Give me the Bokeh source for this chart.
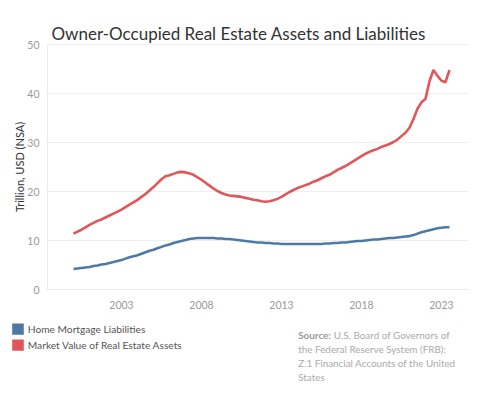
from bokeh.plotting import figure
from bokeh.models import Range1d, FixedTicker, ColumnDataSource
from bokeh.embed import file_html
from bokeh.resources import INLINE
from bokeh.core.properties import value

# ---------------- data (trillion USD, quarterly 2000Q1 .. 2023Q3) ----------------
quarters = [f"{2000 + i // 4}Q{i % 4 + 1}" for i in range(95)]

market_value = [
    11.4, 11.8, 12.2, 12.7, 13.2, 13.6, 14.0, 14.3,   # 2000-2001
    14.7, 15.1, 15.5, 15.9, 16.3, 16.8, 17.3, 17.8,   # 2002-2003
    18.3, 18.9, 19.5, 20.2, 20.9, 21.7, 22.5, 23.1,   # 2004-2005
    23.3, 23.6, 23.9, 24.0, 23.9, 23.7, 23.4, 22.9,   # 2006-2007
    22.4, 21.8, 21.2, 20.6, 20.1, 19.7, 19.4, 19.2,   # 2008-2009
    19.1, 19.0, 18.9, 18.7, 18.5, 18.3, 18.2, 18.0,   # 2010-2011
    17.9, 18.0, 18.2, 18.5, 18.9, 19.4, 19.9, 20.3,   # 2012-2013
    20.7, 21.0, 21.3, 21.6, 22.0, 22.3, 22.7, 23.1,   # 2014-2015
    23.4, 23.9, 24.4, 24.8, 25.2, 25.7, 26.2, 26.7,   # 2016-2017
    27.2, 27.7, 28.1, 28.4, 28.7, 29.1, 29.4, 29.7,   # 2018-2019
    30.1, 30.6, 31.3, 32.0, 33.0, 34.8, 36.9, 38.2,   # 2020-2021
    38.9, 42.5, 44.8, 43.6, 42.6, 42.3, 44.8,         # 2022-2023
]

mortgages = [
    4.2, 4.3, 4.4, 4.5, 4.6, 4.8, 4.9, 5.1,           # 2000-2001
    5.2, 5.4, 5.6, 5.8, 6.0, 6.3, 6.6, 6.8,           # 2002-2003
    7.0, 7.3, 7.6, 7.9, 8.1, 8.4, 8.7, 9.0,           # 2004-2005
    9.2, 9.5, 9.7, 9.9, 10.1, 10.3, 10.4, 10.5,       # 2006-2007
    10.5, 10.5, 10.5, 10.5, 10.4, 10.4, 10.3, 10.3,   # 2008-2009
    10.2, 10.1, 10.0, 9.9, 9.8, 9.7, 9.6, 9.6,        # 2010-2011
    9.5, 9.5, 9.4, 9.4, 9.3, 9.3, 9.3, 9.3,           # 2012-2013
    9.3, 9.3, 9.3, 9.3, 9.3, 9.3, 9.3, 9.4,           # 2014-2015
    9.4, 9.5, 9.5, 9.6, 9.6, 9.7, 9.8, 9.9,           # 2016-2017
    9.9, 10.0, 10.1, 10.2, 10.2, 10.3, 10.4, 10.5,    # 2018-2019
    10.5, 10.6, 10.7, 10.8, 10.9, 11.1, 11.4, 11.7,   # 2020-2021
    11.9, 12.1, 12.3, 12.5, 12.6, 12.7, 12.7,         # 2022-2023
]

x_tick_years = [2003, 2008, 2013, 2018, 2023]
x_tick_labels = ["2003", "2008", "2013", "2018", "2023"]
y_ticks = [0, 10, 20, 30, 40, 50]

series_names = ["Home Mortgage Liabilities", "Market Value of Real Estate Assets"]
series_colors = ["#4e79a7", "#e15759"]

title_text = "Owner-Occupied Real Estate Assets and Liabilities"
y_title = "Trillion, USD (NSA)"
source_head = "Source:"
source_lines = ["U.S. Board of Governors of",
                "the Federal Reserve System (FRB):",
                "Z.1 Financial Accounts of the United",
                "States"]

# ---------------- geometry: the frame fills the whole canvas ----------------
W, H = 477, 397
PL, PR, PT, PB = 47, 468, 44, 289          # page px of the plotting area
X0, X1 = 1998.375, 2024.69                 # years at PL / PR
Y0, Y1 = 0, 50                             # values at PB / PT


def xd(px):
    return X0 + (px - PL) / (PR - PL) * (X1 - X0)


def yd(py):
    return Y0 + (PB - py) / (PB - PT) * (Y1 - Y0)


def q_to_year(q):
    y, n = q.split("Q")
    return int(y) + (int(n) - 1) / 4.0


xs = [q_to_year(q) for q in quarters]
src = ColumnDataSource(dict(x=xs, mv=market_value, mort=mortgages))

FONT = "Lato"

p = figure(width=W, height=H, output_backend="svg", toolbar_location=None,
           x_range=Range1d(xd(0), xd(W)), y_range=Range1d(yd(H), yd(0)),
           min_border=0)
p.outline_line_color = None
p.background_fill_color = "white"
p.border_fill_color = "white"
p.xgrid.visible = False
p.ygrid.visible = False

# horizontal grid lines over the plotting area
p.segment(x0=[X0] * len(y_ticks), x1=[X1] * len(y_ticks), y0=y_ticks, y1=y_ticks,
          line_color="#efefef", line_width=1)

p.line("x", "mort", source=src, line_color=series_colors[0], line_width=2.6)
p.line("x", "mv", source=src, line_color=series_colors[1], line_width=2.6)

# axes pinned to the plotting area
p.xaxis.fixed_location = Y0
p.yaxis.fixed_location = X0
p.xaxis.bounds = (X0, X1)
p.yaxis.bounds = (Y0, Y1)
p.xaxis.ticker = FixedTicker(ticks=x_tick_years)
p.xaxis.major_label_overrides = {y: l for y, l in zip(x_tick_years, x_tick_labels)}
p.yaxis.ticker = FixedTicker(ticks=y_ticks)
for a in (p.xaxis[0], p.yaxis[0]):
    a.major_tick_line_color = None
    a.minor_tick_line_color = None
    a.axis_line_color = "#ebebeb"
    a.major_label_text_font = FONT
    a.major_label_text_font_size = "10.5px"
    a.major_label_text_color = "#9a9a9a"
p.xaxis.major_label_standoff = 5
p.yaxis.major_label_standoff = 2
p.yaxis.axis_label = y_title
p.yaxis.axis_label_text_font = FONT
p.yaxis.axis_label_text_font_size = "11px"
p.yaxis.axis_label_text_font_style = "normal"
p.yaxis.axis_label_text_color = "#333333"
p.yaxis.axis_label_standoff = -2

# title
p.text(x=[xd(51)], y=[yd(33)], text=[title_text], text_font=value(FONT),
       text_font_size="17px", text_color="#333333", text_baseline="alphabetic")

# legend
leg_cy = [328.7, 344.7]
p.quad(left=[xd(11.7)] * 2, right=[xd(23.3)] * 2,
       top=[yd(c - 5.6) for c in leg_cy], bottom=[yd(c + 5.6) for c in leg_cy],
       fill_color=series_colors, line_color=None)
p.text(x=[xd(27.3)] * 2, y=[yd(c) for c in leg_cy], text=series_names,
       text_font=value(FONT), text_font_size="10.2px", text_color="#555555",
       text_baseline="middle")

# source note
src_cy = [334, 348.3, 362.7, 376.7]
p.text(x=[xd(297.7)], y=[yd(src_cy[0])], text=[source_head], text_font=value(FONT),
       text_font_size="9.9px", text_font_style="bold", text_color="#999999",
       text_baseline="middle")
p.text(x=[xd(333.3)] + [xd(297.7)] * 3, y=[yd(c) for c in src_cy], text=source_lines,
       text_font=value(FONT), text_font_size="9.9px", text_color="#aaaaaa",
       text_baseline="middle")

open("out.html", "w").write(file_html(p, INLINE))
